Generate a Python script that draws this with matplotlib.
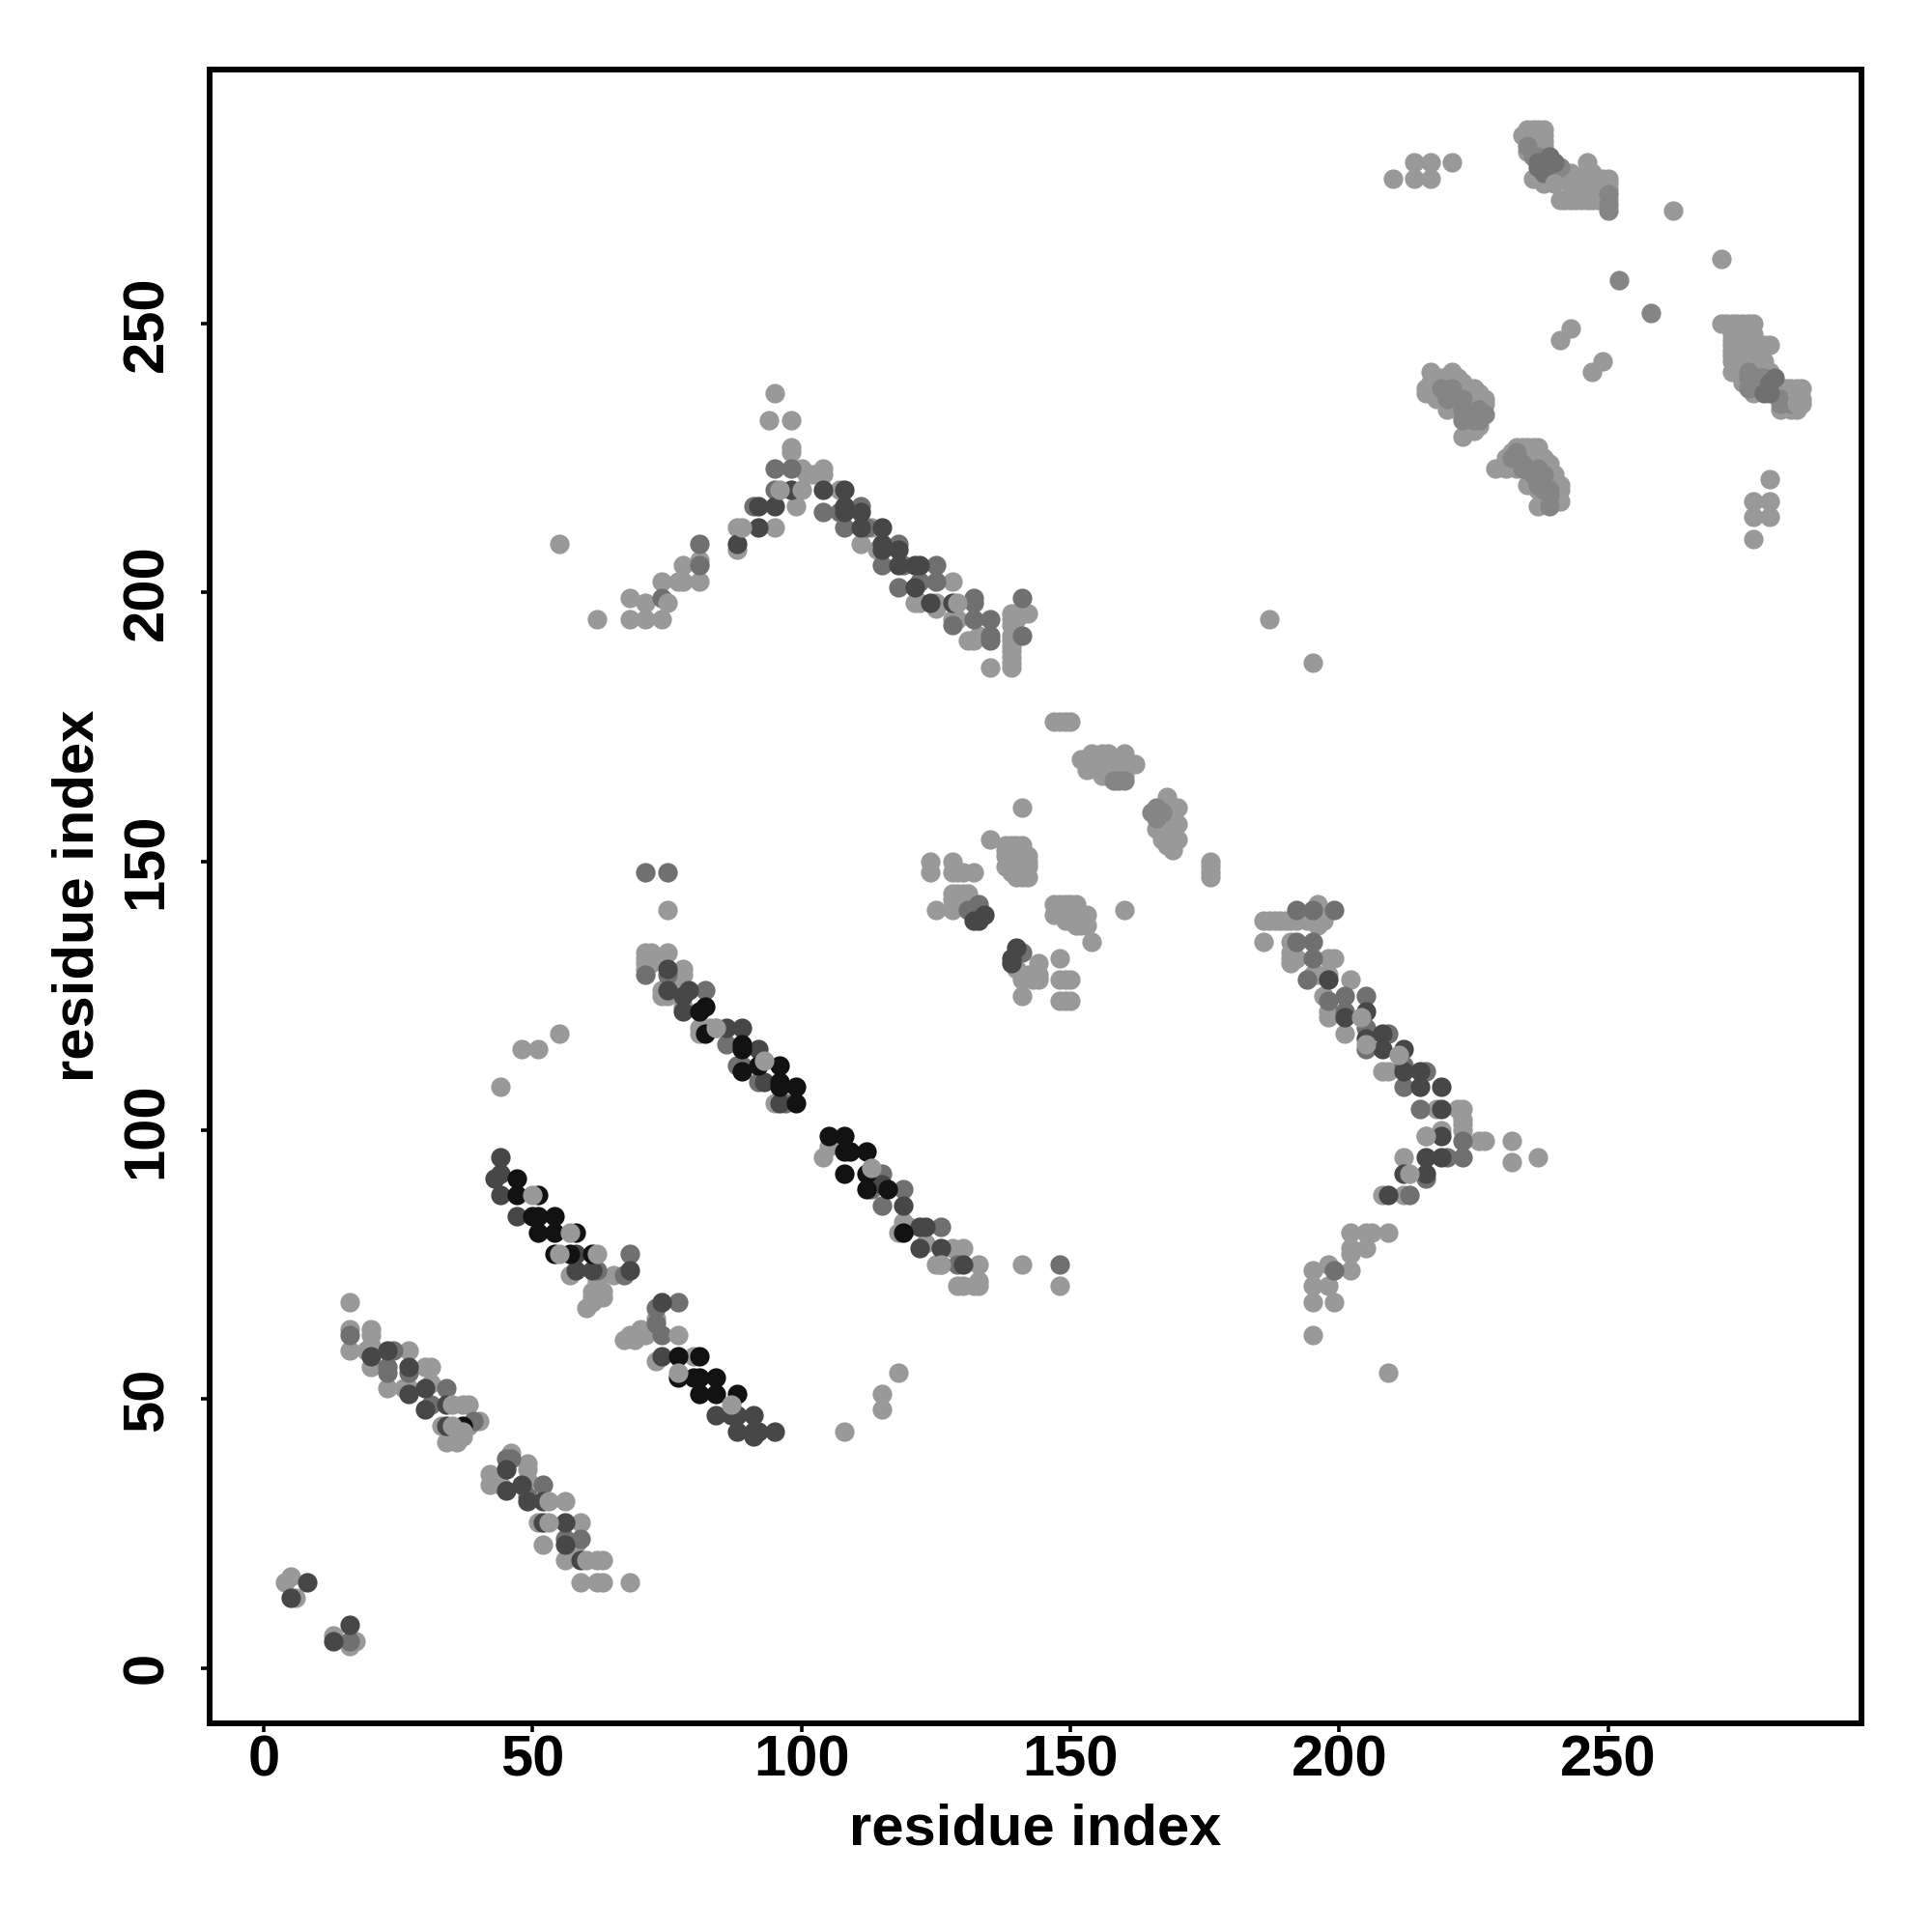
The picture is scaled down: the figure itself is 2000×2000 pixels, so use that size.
import matplotlib
matplotlib.use('Agg')
import matplotlib.pyplot as plt

plt.rcParams['font.family'] = ['Liberation Sans', 'DejaVu Sans']
plt.rcParams['font.weight'] = 'bold'

# contactos, agrupados por tono de gris
light = [
    (5,17),(4,16),(6,13),(13,6),(16,4),(17,5),
    (16,68),(16,63),(20,63),(20,62),(16,59),(19,59),(20,60),(20,56),(27,59),(23,52),(26,52),(27,52),
    (30,56),(31,56),(31,53),(37,49),(38,49),(33,45),(34,42),(36,42),(37,43),(40,46),(38,45),
    (46,40),(42,36),(42,34),(44,34),(43,35),(49,38),(49,37),(49,35),(56,31),(51,27),(59,27),(52,23),(58,23),
    (56,20),(62,20),(63,20),(59,16),(62,16),(63,16),(68,16),
    (44,108),(48,115),(51,115),(55,118),(57,73),(65,73),(62,71),(63,70),(61,70),(61,68),(60,67),(62,72),(61,69),(62,69),(63,69),
    (73,65),(70,63),(69,62),(68,62),(67,61),(71,62),(69,61),(73,57),(80,58),(108,44),(115,48),(115,51),(118,55),
    (75,141),(71,133),(72,133),(75,133),(71,132),(71,131),(72,131),(71,130),(73,132),(78,130),(78,129),(76,128),(76,127),(75,127),(74,126),(75,125),(74,125),(78,123),
    (81,119),(84,119),(81,118),(83,119),(95,105),
    (104,95),(105,97),(119,83),(118,81),(120,82),(123,79),(128,78),(130,78),(125,75),(126,75),(133,75),
    (129,71),(130,71),(133,71),(133,72),(132,71),(141,75),(148,71),
    (147,176),(148,176),(149,176),(150,176),(152,169),(154,170),(154,168),(156,170),(155,169),(155,167),(157,170),(156,166),(157,168),(157,166),(158,167),(160,170),
    (159,168),(160,166),(162,168),(161,168),(153,167),
    (168,162),(170,160),(166,156),(167,154),(168,156),(170,157),(170,154),(169,152),(168,158),(167,158),(169,160),(169,158),(169,155),(167,160),(168,153),
    (176,150),(176,147),(176,149),(176,148),(141,160),(135,154),(160,141),
    (138,153),(139,153),(140,153),(141,153),(138,152),(139,151),(141,151),(142,151),(142,149),(138,151),(140,147),(139,148),(142,147),(138,149),(140,151),(141,149),(140,149),(141,147),(142,150),
    (124,150),(124,148),(128,150),(128,148),(129,148),(130,148),(132,148),(125,141),(128,141),(128,144),(129,144),(130,144),(131,144),(129,142),(128,143),
    (147,142),(147,140),(148,142),(149,142),(150,142),(151,142),(148,140),(150,140),(149,139),(151,140),(152,139),(151,138),(153,140),(153,138),(152,138),(154,135),
    (144,131),(144,129),(144,128),(143,128),(141,128),(142,129),(141,125),(148,132),(148,128),(149,128),(150,128),(148,124),(149,124),(150,124),(140,130),
    (186,139),(187,139),(188,139),(189,139),(190,139),(191,139),(192,139),(194,139),(195,139),(197,139),(196,142),(196,141),(196,140),(196,139),(196,138),(186,135),(191,135),(191,133),(191,132),(192,132),(191,131),(199,132),(198,132),
    (195,129),(196,129),(198,129),(202,128),(197,125),(198,121),(198,122),(201,118),(208,111),(209,111),(212,95),
    (218,104),(222,104),(223,104),(223,102),(223,101),(223,100),(226,98),(227,98),(232,98),(232,94),(237,95),(219,100),(216,99),
    (212,88),(208,88),(202,81),(205,81),(206,81),(202,78),(205,78),(202,77),(195,74),(198,75),(202,74),
    (195,71),(198,71),(195,68),(199,68),(195,62),(209,55),(187,195),(195,187),(209,81),
    (55,209),(62,195),(68,195),(71,195),(74,195),(68,199),(71,198),(74,202),(77,202),(78,202),(81,202),(78,205),(81,206),
    (88,208),(88,212),(95,212),(99,216),(101,222),(102,222),(104,223),(104,222),(100,223),(98,227),(98,226),(94,232),(98,232),(95,237),
    (107,219),(111,209),(113,212),(114,208),(128,202),(121,198),(122,198),(125,198),(125,197),(128,195),(129,195),
    (131,191),(132,191),(133,192),(135,186),(139,186),(139,187),(139,188),(139,189),(139,190),(139,191),(139,192),(139,196),(139,195),(139,194),(140,195),(141,196),(142,196),
    (210,277),(214,277),(217,277),(214,280),(217,280),(221,280),
    (234,285),(235,286),(236,286),(237,286),(238,286),(236,285),(237,284),(238,284),(238,283),(235,282),(236,283),(238,281),(236,277),(238,276),(241,277),(242,278),(243,278),(243,276),(244,276),(245,275),(246,280),(246,278),(246,277),(247,278),
    (241,273),(243,273),(243,274),(244,273),(244,275),(245,273),(246,273),(247,273),(248,273),(248,274),(247,276),(248,276),(249,275),(250,277),(250,276),(250,273),(249,277),(249,273),(242,273),(250,275),
    (262,271),(271,262),(243,249),(241,247),(249,243),(247,241),
    (217,241),(216,237),(216,238),(217,239),(219,240),(221,241),(218,239),(218,236),(220,239),(222,240),(222,238),(220,234),(223,239),(224,238),(225,238),(226,237),(227,236),(223,229),(227,235),(226,235),(225,236),(225,235),(225,230),(224,236),(224,234),(224,232),(226,233),(226,231),(222,236),(222,234),
    (229,223),(231,225),(232,226),(233,227),(236,227),(234,227),(235,227),(237,227),(231,223),(233,223),(238,225),(236,223),(239,222),(235,220),(241,220),(237,219),(237,216),(241,217),
    (232,224),(234,225),(235,225),(236,225),(237,225),(239,224),(240,222),(238,220),(239,220),(240,219),(238,217),(240,217),(236,221),(237,221),(241,219),
    (271,250),(272,250),(273,250),(274,250),(275,250),(276,250),(277,250),(273,248),(273,247),(273,246),(273,245),(273,241),(273,243),(273,244),(274,248),(274,245),(274,243),(275,246),(276,248),(276,246),(276,244),(277,248),(280,246),(279,246),(277,246),(277,244),(278,246),(278,244),(278,242),(279,243),(275,239),(277,237),
    (280,241),(282,234),(283,238),(284,238),(285,238),(286,238),(283,237),(284,236),(286,236),(284,234),(285,234),(286,235),(283,236),
    (280,221),(277,217),(280,217),(277,214),(280,214),(277,210),
]
soft = [
    (227,233),(226,232),(225,232),(223,236),(223,232),(223,234),(220,236),(219,238),(221,238),(224,233),(225,233),(226,234),
    (232,225),(233,226),(233,225),(234,224),(235,223),(234,223),(236,222),(237,223),(238,222),(238,219),(239,218),(239,216),(239,219),(237,220),
    (235,283),(236,281),(237,281),(238,279),(239,279),(241,279),(240,278),(250,274),(250,272),(250,271),(252,258),(258,252),
    (276,241),(276,240),(277,239),(278,240),(279,238),(279,240),(282,236),(282,235),(284,235),(276,238),(278,238),
    (159,165),(160,165),(158,165),(165,159),(166,160),(166,158),(167,159),
]
mid = [
    (16,5),(16,62),(24,59),(23,56),(23,55),(27,55),(34,52),(31,49),(39,46),
    (46,39),(45,39),(52,34),(49,32),(56,24),(59,24),
    (68,77),(62,74),(67,73),(73,67),(77,68),(74,62),(73,64),
    (71,148),(75,148),(71,129),(75,129),(82,126),(86,116),(89,112),(88,112),(92,109),(97,105),
    (115,92),(113,89),(119,89),(115,86),(126,82),(129,75),(148,75),
    (133,142),(131,141),(141,133),
    (192,141),(195,141),(199,141),(192,135),(195,135),(195,132),(194,128),(198,124),(201,125),(205,125),(201,122),(205,119),(205,115),
    (209,118),(212,112),(216,111),(212,108),(215,104),(223,98),(223,95),(220,95),(216,91),(213,88),(199,74),
    (74,199),(81,205),(81,209),(91,216),(95,219),(95,223),(98,223),(104,215),(107,215),(108,212),(111,216),(112,212),
    (118,209),(115,205),(119,205),(125,205),(118,201),(122,202),(125,202),(132,199),(132,198),(128,194),(132,195),(135,195),(135,192),(135,191),(141,192),(141,199),
    (237,280),(238,280),(239,281),(240,280),(237,279),(238,278),(281,240),(280,239),(280,237),(279,237),
]
dark = [
    (8,16),(5,13),(16,8),(13,5),
    (20,58),(23,59),(27,56),(27,51),(30,52),(30,48),(34,49),(34,45),
    (45,37),(45,33),(48,34),(49,31),(52,31),(52,27),(56,27),(56,23),(59,20),
    (44,95),(43,91),(44,92),(44,88),(47,84),(58,77),(58,74),(61,74),(68,74),
    (74,68),(74,58),(84,47),(88,47),(87,47),(91,47),(88,44),(91,44),(91,43),(92,44),(95,44),
    (75,130),(75,126),(79,126),(78,125),(78,122),(86,119),(89,119),(92,115),(93,109),(96,105),
    (115,90),(119,86),(122,82),(123,82),(122,78),(126,78),(130,75),
    (132,139),(133,139),(134,140),(140,134),(139,132),(139,131),
    (198,128),(201,121),(205,122),(205,117),(208,118),(208,115),(212,115),(212,111),(215,111),(215,108),(219,108),(219,104),
    (219,99),(219,95),(216,95),(216,92),(212,92),(209,88),
    (88,209),(92,212),(92,216),(95,216),(98,219),(104,219),(108,219),(108,216),(108,215),(111,215),(111,212),
    (115,212),(115,209),(115,208),(118,208),(118,205),(122,205),(121,205),(121,201),(124,198),(128,198),
]
black = [
    (47,91),(47,88),(51,88),(50,84),(51,84),(54,84),(51,81),(54,81),(58,81),(54,77),(57,77),(61,77),
    (77,58),(77,54),(81,58),(80,54),(81,54),(84,54),(81,51),(84,51),(88,51),(37,45),
    (82,123),(81,122),(82,118),(89,116),(89,115),(89,111),(92,112),(96,112),(96,109),(96,108),(99,108),(99,105),
    (105,99),(108,99),(108,96),(109,96),(112,96),(108,92),(112,92),(112,89),(116,89),(119,81),
]
# puntos claros que quedan por encima de los oscuros
light_top = [
    (50,88),(57,81),(55,77),(62,77),(77,62),(77,55),(87,49),(35,49),(35,45),(53,27),(53,31),(60,20),(37,44),
    (93,113),(113,93),(205,116),(213,92),(211,114),(216,99),(204,121),(75,198),(100,219),(96,219),(89,212),(129,198),(62,70),
    (238,285),(240,276),(285,237),(285,235),(84,119),(126,75),
]

x_ticks = [0, 50, 100, 150, 200, 250]
y_ticks = [0, 50, 100, 150, 200, 250]

fig = plt.figure(figsize=(20, 20), dpi=100)
ax = fig.add_axes([217/2000, 1-1783.5/2000, 1710/2000, 1712/2000])

grises = [(light, '0.60'), (soft, '0.52'), (mid, '0.44'), (dark, '0.28'), (black, '0.07'), (light_top, '0.60')]
for puntos, color in grises:
    xs = [p[0] for p in puntos]
    ys = [p[1] for p in puntos]
    ax.scatter(xs, ys, s=212, c=color, linewidths=0)

ax.set_xlim(-10.06, 297.1)
ax.set_ylim(-10.2, 297.3)
ax.set_xticks(x_ticks)
ax.set_yticks(y_ticks)
ax.tick_params(axis='x', width=2.6, length=6.5, labelsize=43, pad=2)
ax.tick_params(axis='y', width=2.6, length=6.5, labelsize=43, pad=20, labelrotation=90)
for t in ax.get_yticklabels():
    t.set_va('center')
for s in ax.spines.values():
    s.set_linewidth(4.3)
ax.set_xlabel('residue index', fontsize=43, fontweight='bold', labelpad=12)
ax.set_ylabel('residue index', fontsize=43, fontweight='bold', labelpad=12)

fig.savefig('out.png', dpi=100)
